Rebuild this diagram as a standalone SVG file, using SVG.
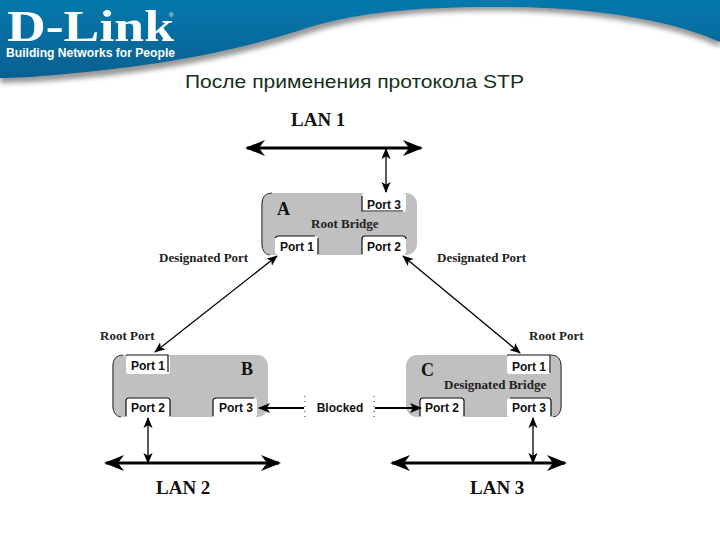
<svg xmlns="http://www.w3.org/2000/svg" width="720" height="540" viewBox="0 0 720 540">
<style>
.lan{font:bold 19px "Liberation Serif",serif;fill:#111}
.letter{font:bold 18px "Liberation Serif",serif;fill:#111}
.role{font:bold 13px "Liberation Serif",serif;fill:#222}
.port{font:bold 12px "Liberation Sans",sans-serif;fill:#111;text-anchor:middle}
.box{fill:#c0c0c0}
.edge{fill:none;stroke:#333;stroke-width:1}
.pb{fill:#fff}
.pl{fill:none;stroke:#111;stroke-width:1.2}
.bus{stroke:#000;stroke-width:3;fill:none;marker-start:url(#big);marker-end:url(#big)}
.link{stroke:#000;stroke-width:1.3;fill:none;marker-start:url(#small);marker-end:url(#small)}
.thick{stroke:#000;stroke-width:2;fill:none;marker-end:url(#small2)}
</style>
<defs>
<linearGradient id="blue" x1="0" y1="0" x2="0" y2="1"><stop offset="0" stop-color="#0479ac"/><stop offset="1" stop-color="#0a5f92"/></linearGradient>
<filter id="soft" x="-5%" y="-20%" width="110%" height="150%"><feGaussianBlur stdDeviation="2.5"/></filter>
<marker id="big" viewBox="0 0 20 16" refX="18" refY="8" markerWidth="20" markerHeight="16" orient="auto-start-reverse" markerUnits="userSpaceOnUse"><path d="M0 0L20 8L0 16L6 8Z" fill="#000"/></marker>
<marker id="small" viewBox="0 0 12 10" refX="11" refY="5" markerWidth="11" markerHeight="10" orient="auto-start-reverse" markerUnits="userSpaceOnUse"><path d="M0 0L12 5L0 10L3 5Z" fill="#000"/></marker>
<marker id="small2" viewBox="0 0 12 10" refX="11" refY="5" markerWidth="12" markerHeight="10" orient="auto" markerUnits="userSpaceOnUse"><path d="M0 0L12 5L0 10L3 5Z" fill="#000"/></marker>
</defs>
<rect width="720" height="540" fill="#fff"/>
<g id="banner">
<path d="M0 0H720V44C680 26 610 10 510 8C420 7 360 14 310 30C250 50 190 62 130 70C80 76 30 80 0 80Z" fill="#444" opacity=".55" filter="url(#soft)" transform="translate(0 3)"/>
<path d="M0 0H720V42C680 24 610 8 510 7C420 6 360 12 310 27C250 47 190 59 130 67C80 73 30 78 0 78Z" fill="url(#blue)"/>
<text x="7" y="41" font-family="Liberation Serif,serif" font-weight="bold" font-size="45" fill="#fff" textLength="167" lengthAdjust="spacingAndGlyphs">D-Link</text>
<text x="6" y="57" font-family="Liberation Sans,sans-serif" font-weight="bold" font-size="13" fill="#fff" textLength="169" lengthAdjust="spacingAndGlyphs">Building Networks for People</text>
<text x="169" y="17" font-family="Liberation Sans,sans-serif" font-size="6" fill="#fff">®</text>
</g>
<text id="title" x="185" y="88" font-family="Liberation Sans,sans-serif" font-size="18" fill="#14301c" textLength="339" lengthAdjust="spacingAndGlyphs">После применения протокола STP</text>
<g id="lan1"><text class="lan" x="291" y="126">LAN 1</text></g>
<g id="lan2"><text class="lan" x="156" y="494">LAN 2</text></g>
<g id="lan3"><text class="lan" x="470" y="494">LAN 3</text></g>
<g id="bridgeA">
<rect class="box" x="261" y="193" width="156" height="62" rx="11"/>
<path class="edge" d="M272 193Q262 193 262 204V244Q262 254 270 255"/>
<rect class="pb" x="275" y="236" width="43" height="19" rx="3"/><path class="pl" d="M318 238V254M275 238Q276 236 279 236H315"/>
<rect class="pb" x="362" y="236" width="44" height="19" rx="3"/><path class="pl" d="M362 254V239Q362 236 365 236H403Q406 236 406 239"/>
<rect class="pb" x="362" y="193" width="44" height="19" rx="3"/><path class="pl" d="M362 196V211H403"/>
<text class="port" x="297" y="251">Port 1</text><text class="port" x="384" y="251">Port 2</text><text class="port" x="384" y="209">Port 3</text>
<text class="letter" x="277" y="215">A</text>
<text class="role" x="311" y="228">Root Bridge</text>
</g>
<g id="bridgeB">
<rect class="box" x="112" y="355" width="156" height="62" rx="11"/>
<path class="edge" d="M123 355Q113 355 113 366V406Q113 416 121 417"/>
<rect class="pb" x="126" y="355" width="44" height="19" rx="3"/><path class="pl" d="M126 355H168V372"/>
<rect class="pb" x="126" y="398" width="44" height="19" rx="3"/><path class="pl" d="M126 416V401Q126 398 129 398H167Q170 398 170 401V416"/>
<rect class="pb" x="213" y="398" width="44" height="19" rx="3"/><path class="pl" d="M213 416V401Q213 398 216 398H254"/>
<text class="port" x="148" y="370">Port 1</text><text class="port" x="148" y="412">Port 2</text><text class="port" x="236" y="412">Port 3</text>
<text class="letter" x="241" y="375">B</text>
</g>
<g id="bridgeC">
<rect class="box" x="406" y="355" width="156" height="62" rx="11"/>
<path class="edge" d="M551 355Q561 355 561 366V406Q561 416 553 417"/>
<rect class="pb" x="507" y="355" width="44" height="19" rx="3"/><path class="pl" d="M507 355H550V373"/>
<rect class="pb" x="420" y="398" width="44" height="19" rx="3"/><path class="pl" d="M420 416V401Q420 398 423 398H461Q464 398 464 401V416"/>
<rect class="pb" x="507" y="398" width="44" height="19" rx="3"/><path class="pl" d="M510 398H548Q551 398 551 401V416"/>
<text class="port" x="529" y="371">Port 1</text><text class="port" x="442" y="412">Port 2</text><text class="port" x="529" y="412">Port 3</text>
<text class="letter" x="421" y="376">C</text>
<text class="role" x="444" y="389">Designated Bridge</text>
</g>
<g id="blocked">
<rect x="304" y="392" width="71" height="32" rx="6" fill="#fff"/>
<path d="M305 396V420M374 396V420" stroke="#222" stroke-width="1" stroke-dasharray="1 4" fill="none"/>
<text class="port" x="340" y="412">Blocked</text>
</g>
<g id="connectors">
<path class="bus" d="M247 148H421"/>
<path class="link" d="M386 149V192"/>
<path class="link" d="M277 256L155 352" stroke-width="1"/>
<path class="link" d="M403 256L520 353" stroke-width="1"/>
<path class="link" d="M148 418V463"/>
<path class="bus" d="M106 463H279"/>
<path class="link" d="M533 418V463" stroke-width="1.6"/>
<path class="bus" d="M392 463H565"/>
<path class="thick" d="M304 408H259"/>
<path class="thick" d="M375 408H421"/>
</g>
<g id="labels">
<text class="role" x="159" y="262">Designated Port</text>
<text class="role" x="437" y="262">Designated Port</text>
<text class="role" x="100" y="340">Root Port</text>
<text class="role" x="529" y="340">Root Port</text>
</g>
</svg>
